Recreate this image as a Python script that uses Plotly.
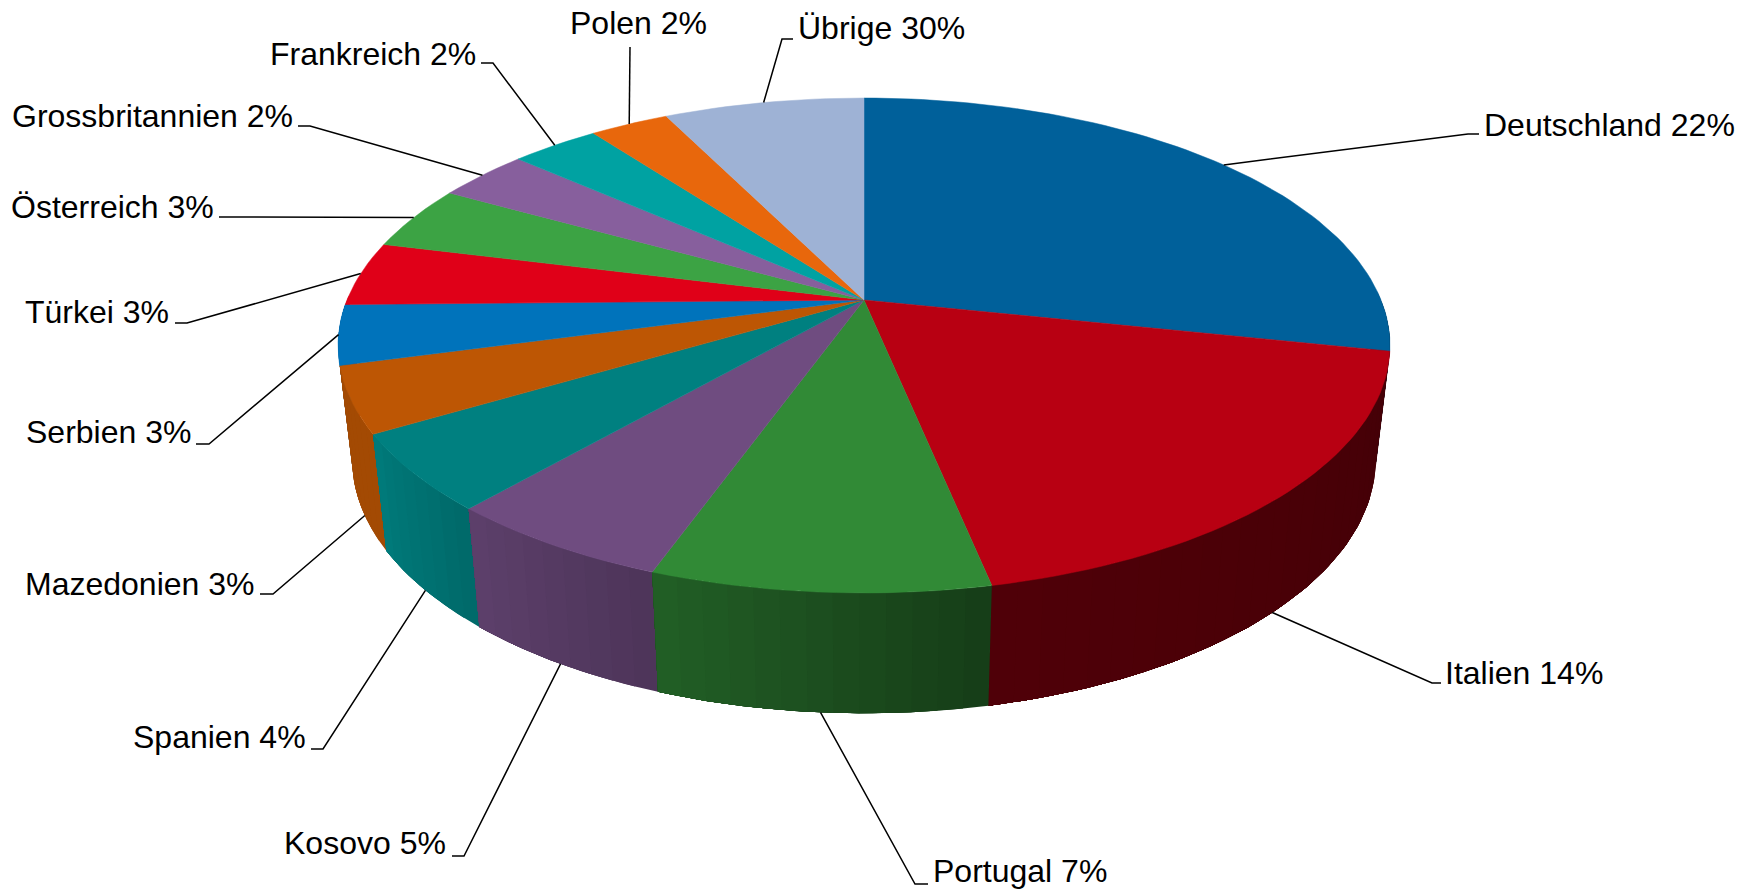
import numpy as np
import plotly.graph_objects as go

# ---- data -------------------------------------------------------------
countries = ["Deutschland", "Italien", "Portugal", "Kosovo", "Spanien", "Mazedonien", "Serbien",
             "Türkei", "Österreich", "Grossbritannien", "Frankreich", "Polen", "Übrige"]
label_percent = [22, 14, 7, 5, 4, 3, 3, 3, 3, 2, 2, 2, 30]
# share of the circle that each slice takes in the drawing
drawn_share = [28.3, 18.45, 8.75, 5.95, 5.05, 4.3, 3.9, 4.2, 4.2, 3.4, 3.25, 2.9, 7.35]
colors = ["#00609A", "#B80012", "#318A36", "#6F4C80", "#008080", "#BD5604", "#0073BB",
          "#E00018", "#3CA344", "#875F9D", "#00A2A2", "#E8670C", "#9EB2D5"]

# ---- layout / style ----------------------------------------------------
label_x = [1484, 1445, 933, 446, 306, 254, 191, 169, 214, 293, 477, 571, 798]
label_y = [125, 673, 871, 843, 737, 584, 432, 312, 207, 116, 54, 23, 28]
label_anchor = ["left", "left", "left", "right", "right", "right", "right", "right", "right",
                "right", "right", "left", "left"]
label_shift = [-2.5, -2, -2, 2, 2, 2, 2, 2, 2, 2, 1, -3, -2]
elbow_x = [1468, 1432, 915, 464, 323, 273, 209, 187, None, 310, 493, None, 782]
elbow_y = [134, 683, 884, 856, 749, 594, 444, 323, 217, 126, 63, 47, 39]
end_x = [1479, 1441, 928, 452, 311, 260, 196, 175, 219, 298, 481, 630, 793]
CX, CY, A, B, K = 864.0, 300.0, 239.1, 517.0, 0.1838
SX, DY0, SY = 0.973, 113.0, 1.025
# wall brightness at the start and end of each slice (clockwise)
wall_start = [0.37, 0.37, 0.45, 0.70, 0.83, 0.86, 0.86, 0.86, 0.86, 0.86, 0.86, 0.86, 0.86]
wall_end = [0.37, 0.43, 0.68, 0.83, 0.95, 0.86, 0.86, 0.86, 0.86, 0.86, 0.86, 0.86, 0.86]
WALL_FROM, WALL_TO = 88.0, 271.0


def top(t):
    """Clockwise angle from 12 o'clock (deg) -> pixel position of the top rim."""
    r = np.radians(t)
    X, Y = np.sin(r), np.cos(r)
    w = 1 + K * Y
    return CX + B * X / w, CY - A * Y / w


def bottom(t):
    x, y = top(t)
    return CX + SX * (x - CX), CY + DY0 + SY * (y - CY)


def shade(hexcol, f):
    c = [int(hexcol[i:i + 2], 16) for i in (1, 3, 5)]
    return "rgb(%d,%d,%d)" % tuple(round(v * f) for v in c)


edges = np.concatenate([[0], np.cumsum(drawn_share)]) * 3.6
fig = go.Figure()

# side wall, far slices first; each band runs on to the slice end so no seams show
order = sorted(range(len(countries)), key=lambda i: -np.cos(np.radians((edges[i] + edges[i + 1]) / 2)))
for i in order:
    a0, a1 = max(edges[i], WALL_FROM), min(edges[i + 1], WALL_TO)
    if a1 <= a0:
        continue
    n = max(1, int(np.ceil((a1 - a0) / 2.5)))
    ts = np.linspace(a0, a1, n + 1)
    for j in range(n):
        tm = np.linspace(ts[j], a1, 2 * (n - j) + 1)
        xt, yt = top(tm)
        xb, yb = bottom(tm[::-1])
        f = wall_start[i] + (wall_end[i] - wall_start[i]) * (j / max(1, n - 1))
        col = shade(colors[i], f)
        fig.add_trace(go.Scatter(x=np.r_[xt, xb, xt[0]], y=np.r_[yt, yb, yt[0]], mode="lines",
                                 fill="toself", fillcolor=col, line=dict(color=col, width=0),
                                 hoverinfo="skip", showlegend=False))

# top face
for i, name in enumerate(countries):
    ts = np.linspace(edges[i], edges[i + 1], max(3, int((edges[i + 1] - edges[i]) / 1.5)))
    xr, yr = top(ts)
    fig.add_trace(go.Scatter(x=np.r_[CX, xr, CX], y=np.r_[CY, yr, CY], mode="lines", fill="toself",
                             fillcolor=colors[i], line=dict(color=colors[i], width=0.5),
                             name=name, hoverinfo="name", showlegend=False))

# leader lines and labels
for i, name in enumerate(countries):
    mid = (edges[i] + edges[i + 1]) / 2
    Y = np.cos(np.radians(mid))
    ax, ay = bottom(mid) if Y < -0.3 else top(mid)
    xs, ys = [float(ax)], [float(ay)]
    if elbow_x[i] is not None:
        xs.append(elbow_x[i]); ys.append(elbow_y[i])
    xs.append(end_x[i]); ys.append(elbow_y[i])
    fig.add_trace(go.Scatter(x=xs, y=ys, mode="lines", line=dict(color="black", width=1.5),
                             hoverinfo="skip", showlegend=False))
    fig.add_annotation(x=label_x[i], y=label_y[i], text=f"{name} {label_percent[i]}%", showarrow=False,
                       xanchor=label_anchor[i], yanchor="middle", xshift=label_shift[i],
                       font=dict(family="Liberation Sans", size=32, color="black"))

fig.update_layout(width=1754, height=889, margin=dict(l=0, r=0, t=0, b=0), autosize=False,
                  paper_bgcolor="white", plot_bgcolor="white",
                  xaxis=dict(range=[0, 1754], visible=False, fixedrange=True),
                  yaxis=dict(range=[889, 0], visible=False, fixedrange=True))
fig.write_html("out.html", post_script="document.body.style.margin='0';document.body.style.overflow='hidden';",
               config=dict(displayModeBar=False))
